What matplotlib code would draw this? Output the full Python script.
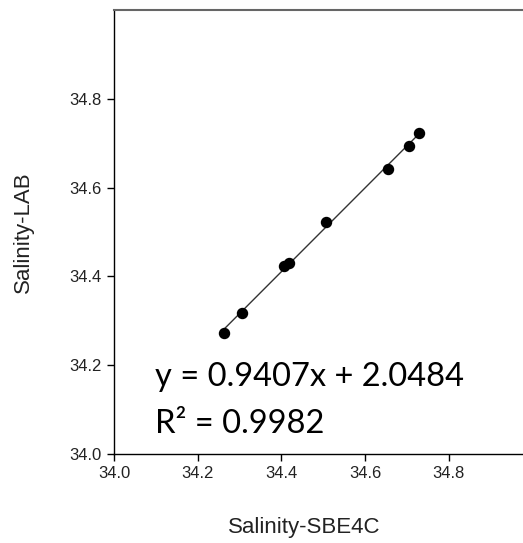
import numpy as np
import matplotlib.pyplot as plt

# salinity pairs
sal_sbe = [34.264, 34.305, 34.406, 34.417, 34.507, 34.654, 34.704, 34.729]
sal_lab = [34.273, 34.318, 34.424, 34.431, 34.523, 34.641, 34.693, 34.724]
ticks = [34.0, 34.2, 34.4, 34.6, 34.8]
eq_txt = "y = 0.9407x + 2.0484"
r2_txt = "R\u00b2 = 0.9982"

fig = plt.figure(figsize=(5.23, 5.43), dpi=100)
# axes runs past the right edge like in the original export
ax = fig.add_axes([114/523, 89/543, 418.5/523, 444/543])

x = np.array(sal_sbe)
y = np.array(sal_lab)
a, b = np.polyfit(x, y, 1)
xl = np.array([x.min(), x.max()])
ax.plot(xl, a*xl + b, color='#333333', lw=1, zorder=2)
ax.scatter(x, y, s=52, color='black', zorder=3)

ax.set_xlim(34.0, 35.0)
ax.set_ylim(34.0, 35.0)
ax.set_xticks(ticks)
ax.set_yticks(ticks)
ax.set_xticklabels([f"{t:.1f}" for t in ticks])
ax.set_yticklabels([f"{t:.1f}" for t in ticks])
ax.tick_params(direction='out', length=5, width=1, labelsize=12, pad=4,
               labelcolor='#222222')
for lab in ax.get_xticklabels() + ax.get_yticklabels():
    lab.set_family('Liberation Sans')

ax.spines['right'].set_visible(False)
ax.spines['top'].set_color('#666666')
ax.spines['top'].set_linewidth(1.5)
ax.spines['left'].set_linewidth(1)
ax.spines['bottom'].set_linewidth(1)

ax.set_xlabel("Salinity-SBE4C", fontsize=16, family='Liberation Sans', color='#222222')
ax.set_ylabel("Salinity-LAB", fontsize=16, family='Liberation Sans', color='#222222')
ax.xaxis.set_label_coords(0.454, -0.142)
ax.yaxis.set_label_coords(-0.192, 0.5)

ax.text(0.098, 0.153, eq_txt, transform=ax.transAxes, fontsize=23.5,
        family='Lato', va='baseline', ha='left')
ax.text(0.098, 0.047, r2_txt, transform=ax.transAxes, fontsize=23.5,
        family='Lato', va='baseline', ha='left')

fig.savefig("out.png", dpi=100)
